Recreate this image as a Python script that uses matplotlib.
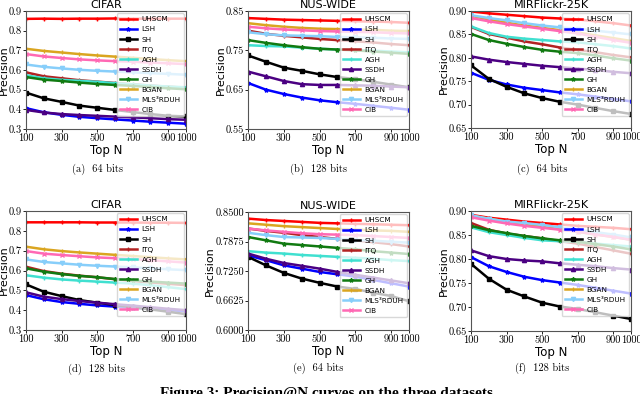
import matplotlib
matplotlib.use('Agg')
import matplotlib.pyplot as plt
import numpy as np

top_n = [100, 200, 300, 400, 500, 600, 700, 800, 900, 1000]

methods = ['UHSCM', 'LSH', 'SH', 'ITQ', 'AGH', 'SSDH', 'GH', 'BGAN', 'MLS³RDUH', 'CIB']
colors = ['#ff0000', '#0000ff', '#000000', '#b22222', '#40e0d0',
          '#4b0082', '#117a11', '#daa520', '#87cefa', '#ff69b4']
markers = ['+', '*', 's', '+', '+', '^', '*', '|', 'v', 'x']

# (a) CIFAR 64 bits
cifar_64 = {
    'UHSCM':    [0.860, 0.861, 0.860, 0.861, 0.861, 0.862, 0.861, 0.861, 0.861, 0.861],
    'LSH':      [0.406, 0.385, 0.372, 0.362, 0.355, 0.349, 0.343, 0.337, 0.332, 0.327],
    'SH':       [0.485, 0.456, 0.438, 0.419, 0.408, 0.397, 0.386, 0.376, 0.367, 0.364],
    'ITQ':      [0.588, 0.568, 0.558, 0.548, 0.541, 0.534, 0.527, 0.521, 0.515, 0.510],
    'AGH':      [0.573, 0.558, 0.550, 0.545, 0.540, 0.533, 0.527, 0.521, 0.516, 0.512],
    'SSDH':     [0.397, 0.384, 0.376, 0.371, 0.367, 0.363, 0.359, 0.355, 0.350, 0.347],
    'GH':       [0.564, 0.551, 0.544, 0.536, 0.529, 0.524, 0.519, 0.513, 0.507, 0.502],
    'BGAN':     [0.708, 0.697, 0.689, 0.681, 0.674, 0.668, 0.662, 0.656, 0.650, 0.645],
    'MLS³RDUH': [0.628, 0.616, 0.608, 0.601, 0.596, 0.592, 0.588, 0.584, 0.580, 0.576],
    'CIB':      [0.681, 0.669, 0.661, 0.654, 0.649, 0.645, 0.642, 0.638, 0.634, 0.630],
}

# (b) NUS-WIDE 128 bits
nus_128 = {
    'UHSCM':    [0.832, 0.830, 0.828, 0.827, 0.826, 0.825, 0.824, 0.823, 0.822, 0.820],
    'LSH':      [0.667, 0.650, 0.639, 0.630, 0.623, 0.618, 0.614, 0.609, 0.604, 0.599],
    'SH':       [0.737, 0.721, 0.706, 0.698, 0.689, 0.682, 0.677, 0.670, 0.663, 0.656],
    'ITQ':      [0.800, 0.792, 0.787, 0.783, 0.779, 0.776, 0.773, 0.770, 0.766, 0.763],
    'AGH':      [0.763, 0.761, 0.760, 0.757, 0.754, 0.752, 0.751, 0.749, 0.747, 0.745],
    'SSDH':     [0.696, 0.684, 0.672, 0.664, 0.662, 0.662, 0.661, 0.660, 0.658, 0.656],
    'GH':       [0.776, 0.769, 0.763, 0.758, 0.754, 0.752, 0.750, 0.747, 0.744, 0.741],
    'BGAN':     [0.819, 0.814, 0.810, 0.807, 0.805, 0.804, 0.803, 0.802, 0.800, 0.799],
    'MLS³RDUH': [0.796, 0.791, 0.788, 0.787, 0.786, 0.784, 0.783, 0.782, 0.780, 0.779],
    'CIB':      [0.810, 0.806, 0.803, 0.801, 0.799, 0.798, 0.797, 0.796, 0.794, 0.793],
}

# (c) MIRFlickr-25K 64 bits
mir_64 = {
    'UHSCM':    [0.899, 0.895, 0.892, 0.889, 0.886, 0.884, 0.882, 0.878, 0.874, 0.869],
    'LSH':      [0.768, 0.753, 0.743, 0.736, 0.731, 0.726, 0.722, 0.717, 0.712, 0.707],
    'SH':       [0.784, 0.755, 0.738, 0.724, 0.714, 0.706, 0.700, 0.693, 0.686, 0.680],
    'ITQ':      [0.866, 0.851, 0.843, 0.835, 0.829, 0.822, 0.817, 0.812, 0.806, 0.801],
    'AGH':      [0.867, 0.853, 0.845, 0.841, 0.838, 0.835, 0.833, 0.829, 0.825, 0.820],
    'SSDH':     [0.803, 0.796, 0.791, 0.787, 0.783, 0.780, 0.777, 0.774, 0.770, 0.767],
    'GH':       [0.851, 0.838, 0.830, 0.823, 0.817, 0.813, 0.810, 0.805, 0.799, 0.794],
    'BGAN':     [0.890, 0.882, 0.875, 0.869, 0.864, 0.859, 0.854, 0.848, 0.842, 0.836],
    'MLS³RDUH': [0.891, 0.885, 0.880, 0.874, 0.869, 0.865, 0.862, 0.858, 0.854, 0.850],
    'CIB':      [0.885, 0.878, 0.872, 0.867, 0.862, 0.857, 0.852, 0.845, 0.838, 0.832],
}

# (d) CIFAR 128 bits
cifar_128 = {
    'UHSCM':    [0.843, 0.843, 0.843, 0.843, 0.842, 0.842, 0.842, 0.841, 0.841, 0.840],
    'LSH':      [0.476, 0.455, 0.441, 0.432, 0.424, 0.418, 0.413, 0.407, 0.401, 0.394],
    'SH':       [0.530, 0.493, 0.471, 0.451, 0.438, 0.426, 0.414, 0.404, 0.392, 0.380],
    'ITQ':      [0.619, 0.597, 0.584, 0.574, 0.566, 0.556, 0.547, 0.540, 0.533, 0.526],
    'AGH':      [0.576, 0.564, 0.555, 0.549, 0.544, 0.539, 0.534, 0.526, 0.516, 0.506],
    'SSDH':     [0.490, 0.468, 0.456, 0.446, 0.438, 0.430, 0.423, 0.415, 0.407, 0.400],
    'GH':       [0.611, 0.594, 0.582, 0.573, 0.566, 0.557, 0.550, 0.544, 0.539, 0.534],
    'BGAN':     [0.720, 0.707, 0.698, 0.691, 0.685, 0.679, 0.673, 0.667, 0.661, 0.656],
    'MLS³RDUH': [0.656, 0.643, 0.636, 0.629, 0.624, 0.620, 0.616, 0.611, 0.606, 0.602],
    'CIB':      [0.698, 0.685, 0.678, 0.672, 0.666, 0.662, 0.658, 0.652, 0.646, 0.640],
}

# (e) NUS-WIDE 64 bits
nus_64 = {
    'UHSCM':    [0.836, 0.833, 0.831, 0.829, 0.827, 0.826, 0.825, 0.824, 0.823, 0.822],
    'LSH':      [0.758, 0.748, 0.737, 0.730, 0.723, 0.718, 0.713, 0.706, 0.699, 0.692],
    'SH':       [0.755, 0.737, 0.721, 0.709, 0.700, 0.692, 0.687, 0.679, 0.672, 0.661],
    'ITQ':      [0.815, 0.810, 0.806, 0.801, 0.797, 0.793, 0.790, 0.786, 0.782, 0.777],
    'AGH':      [0.767, 0.764, 0.762, 0.759, 0.757, 0.755, 0.753, 0.751, 0.748, 0.746],
    'SSDH':     [0.762, 0.751, 0.742, 0.736, 0.730, 0.723, 0.717, 0.711, 0.705, 0.699],
    'GH':       [0.797, 0.790, 0.783, 0.780, 0.777, 0.774, 0.771, 0.767, 0.764, 0.761],
    'BGAN':     [0.826, 0.823, 0.820, 0.818, 0.816, 0.814, 0.813, 0.811, 0.810, 0.808],
    'MLS³RDUH': [0.806, 0.801, 0.797, 0.796, 0.795, 0.793, 0.791, 0.789, 0.787, 0.785],
    'CIB':      [0.815, 0.811, 0.808, 0.805, 0.803, 0.802, 0.801, 0.799, 0.797, 0.795],
}

# (f) MIRFlickr-25K 128 bits
mir_128 = {
    'UHSCM':    [0.892, 0.886, 0.882, 0.878, 0.875, 0.872, 0.869, 0.867, 0.865, 0.862],
    'LSH':      [0.804, 0.785, 0.773, 0.763, 0.756, 0.751, 0.746, 0.740, 0.734, 0.728],
    'SH':       [0.790, 0.759, 0.736, 0.722, 0.709, 0.701, 0.696, 0.689, 0.682, 0.675],
    'ITQ':      [0.875, 0.861, 0.853, 0.848, 0.843, 0.837, 0.832, 0.825, 0.818, 0.811],
    'AGH':      [0.866, 0.856, 0.850, 0.844, 0.839, 0.837, 0.836, 0.832, 0.829, 0.826],
    'SSDH':     [0.818, 0.806, 0.800, 0.797, 0.795, 0.791, 0.788, 0.785, 0.781, 0.778],
    'GH':       [0.869, 0.860, 0.854, 0.848, 0.843, 0.839, 0.836, 0.831, 0.826, 0.820],
    'BGAN':     [0.890, 0.884, 0.878, 0.872, 0.867, 0.862, 0.857, 0.851, 0.846, 0.840],
    'MLS³RDUH': [0.891, 0.884, 0.878, 0.875, 0.871, 0.866, 0.861, 0.856, 0.851, 0.845],
    'CIB':      [0.887, 0.880, 0.874, 0.869, 0.865, 0.861, 0.857, 0.851, 0.846, 0.840],
}

panels = [
    (cifar_64, 'CIFAR', '(a)  64 bits', [0.3, 0.4, 0.5, 0.6, 0.7, 0.8, 0.9], '%.1f'),
    (nus_128, 'NUS-WIDE', '(b)  128 bits', [0.55, 0.65, 0.75, 0.85], '%.2f'),
    (mir_64, 'MIRFlickr-25K', '(c)  64 bits', [0.65, 0.70, 0.75, 0.80, 0.85, 0.90], '%.2f'),
    (cifar_128, 'CIFAR', '(d)  128 bits', [0.3, 0.4, 0.5, 0.6, 0.7, 0.8, 0.9], '%.1f'),
    (nus_64, 'NUS-WIDE', '(e)  64 bits', [0.6, 0.6625, 0.725, 0.7875, 0.85], '%.4f'),
    (mir_128, 'MIRFlickr-25K', '(f)  128 bits', [0.65, 0.70, 0.75, 0.80, 0.85, 0.90], '%.2f'),
]

# axes boxes in pixels: left, top, right, bottom
W, H = 640, 394
boxes = [(26, 11, 186, 129), (248, 11, 409, 129), (471, 11, 631, 128),
         (26, 211, 186, 330), (248, 212, 409, 330), (471, 211, 631, 331)]
caption_pos = [(97, 169), (318, 169), (542, 169), (97, 369), (318, 368), (542, 368)]

fig = plt.figure(figsize=(W / 100, H / 100), dpi=100)

for (data, title, caption, yticks, fmt), (l, t, r, b), (cx, cy) in zip(panels, boxes, caption_pos):
    ax = fig.add_axes([l / W, 1 - b / H, (r - l) / W, (b - t) / H])
    for m, c, mk in zip(methods, colors, markers):
        ax.plot(top_n, data[m], color=c, marker=mk, markersize=3, lw=1.8, label=m)
    ax.set_xlim(100, 1000)
    ax.set_ylim(yticks[0], yticks[-1])
    ax.set_xticks([100, 300, 500, 700, 900, 1000])
    ax.set_yticks(yticks)
    ax.set_yticklabels([fmt % v for v in yticks])
    for lab in ax.get_xticklabels() + ax.get_yticklabels():
        lab.set_fontfamily('cmr10')
        lab.set_fontsize(7.5)
    ax.tick_params(length=2, width=0.6, pad=1)
    ax.set_title(title, fontsize=8, pad=2)
    ax.set_xlabel('Top N', fontsize=8.5, labelpad=1)
    ax.set_ylabel('Precision', fontsize=8, labelpad=0)
    for s in ax.spines.values():
        s.set_color('#555555')
        s.set_linewidth(0.8)
    ax.legend(loc='upper right', fontsize=5.2, framealpha=0.75, handlelength=2.4,
              labelspacing=0.55, borderpad=0.45, handletextpad=0.6,
              borderaxespad=0.3, edgecolor='#cccccc', fancybox=True)
    fig.text(cx / W, 1 - cy / H, caption, fontfamily='cmr10', fontsize=7.5,
             ha='center', va='center')

fig.text(160 / W, 1 - 387 / H, 'Figure 3: Precision@N curves on the three datasets.',
         fontfamily='Liberation Serif', fontweight='bold', fontsize=11, ha='left', va='top')

fig.savefig('out.png', dpi=100)
